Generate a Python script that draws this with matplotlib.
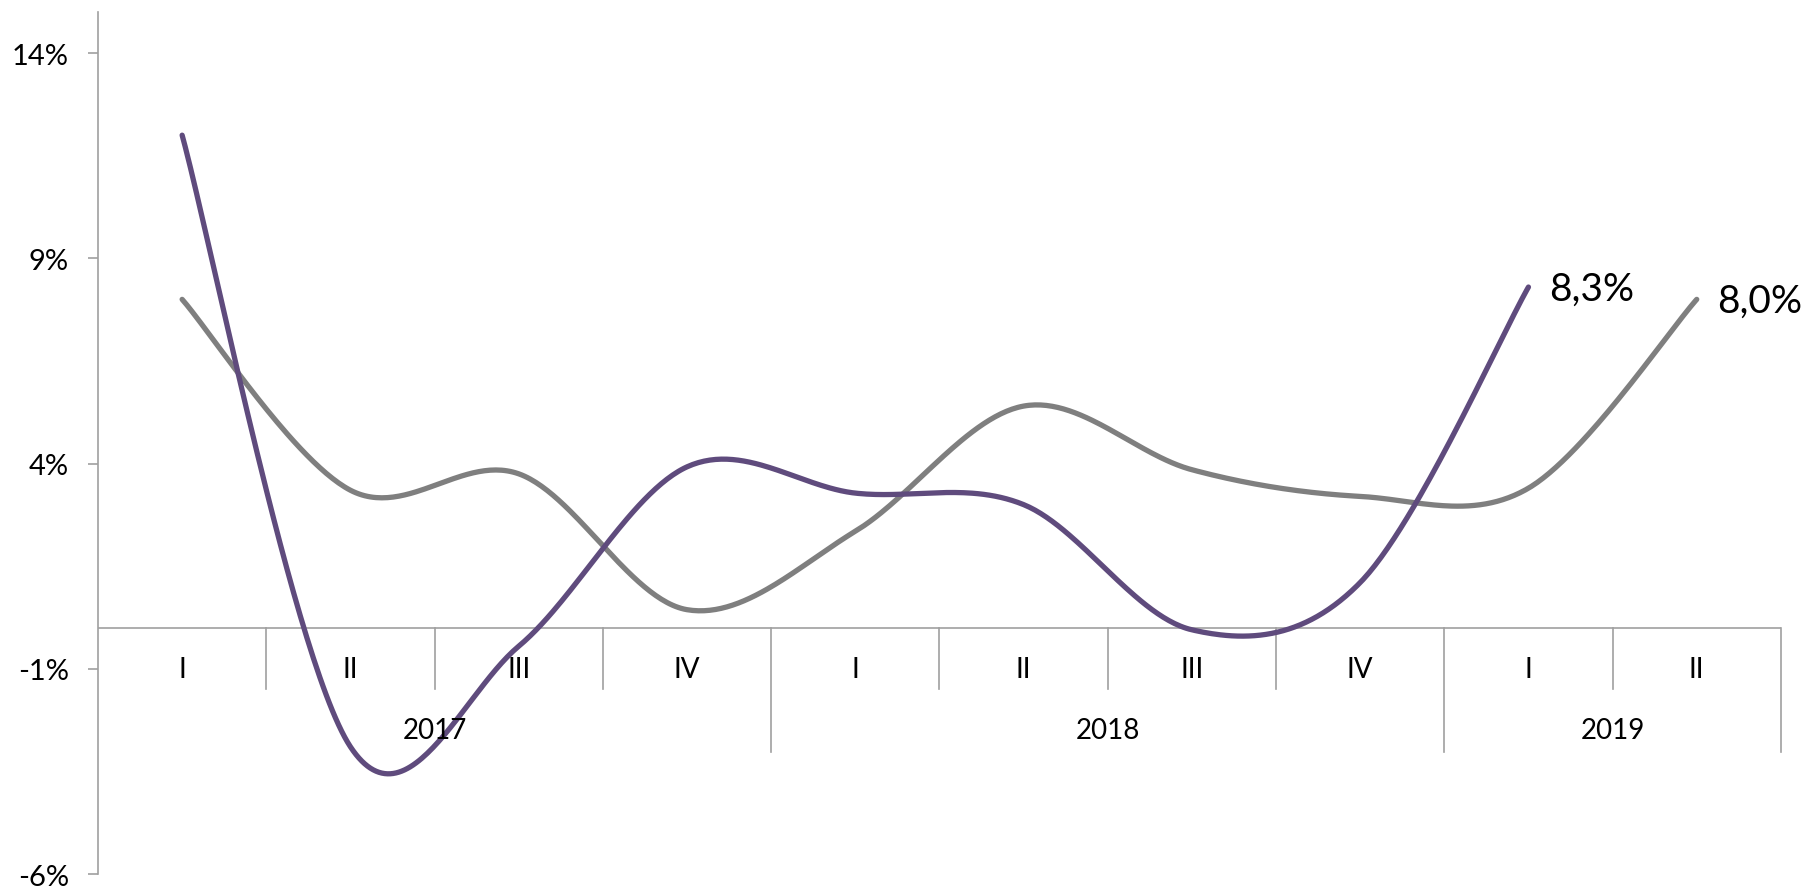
import numpy as np
import matplotlib.pyplot as plt

# ── data ─────────────────────────────────────────────────────────────────────
QUARTERS = ["I", "II", "III", "IV", "I", "II", "III", "IV", "I", "II"]
YEARS = ["2017", "2018", "2019"]
YEAR_SIZES = [4, 4, 2]
PURPLE = [12.0, -2.9, -0.45, 3.92, 3.28, 3.0, -0.05, 1.1, 8.3]
GRAY = [8.0, 3.35, 3.75, 0.44, 2.35, 5.4, 3.85, 3.2, 3.4, 8.0]
YTICKS = [-6, -1, 4, 9, 14]

C_PURPLE = "#5f4b7d"
C_GRAY = "#7f7f7f"
C_AXIS = "#a0a0a0"
FONT = ["Lato", "DejaVu Sans"]


def smooth(xs, ys, n=60):
    """Excel-like smoothed line: Catmull-Rom as cubic Bezier (1/6 tangents)"""
    p = np.column_stack([xs, ys]).astype(float)
    ext = np.vstack([p[0], p, p[-1]])
    out = []
    t = np.linspace(0, 1, n)[:, None]
    for i in range(len(p) - 1):
        p0, p3 = ext[i + 1], ext[i + 2]
        c1 = p0 + (ext[i + 2] - ext[i]) / 6
        c2 = p3 - (ext[i + 3] - ext[i + 1]) / 6
        seg = ((1 - t) ** 3) * p0 + 3 * ((1 - t) ** 2) * t * c1 \
            + 3 * (1 - t) * t ** 2 * c2 + t ** 3 * p3
        out.append(seg if i == 0 else seg[1:])
    s = np.vstack(out)
    return s[:, 0], s[:, 1]


def pct(v):
    return f"{v:.1f}%".replace(".", ",")


def main():
    plt.rcParams["font.family"] = FONT
    fig = plt.figure(figsize=(18.08, 8.87), dpi=100, facecolor="white")
    ax = fig.add_axes([0.0542, 0.0135, 0.9308, 0.9718])
    ax.set_xlim(0, len(QUARTERS))
    ax.set_ylim(-6, 15)

    for vals, col in [(GRAY, C_GRAY), (PURPLE, C_PURPLE)]:
        xs = np.arange(len(vals)) + 0.5
        sx, sy = smooth(xs, vals)
        ax.plot(sx, sy, color=col, lw=3.8, solid_capstyle="round", zorder=3)
        ax.annotate(pct(vals[-1]), (xs[-1], vals[-1]), xytext=(15, -1),
                    textcoords="offset points", ha="left", va="center",
                    fontsize=28, color="black")

    # value axis
    for s in ["top", "right", "bottom"]:
        ax.spines[s].set_visible(False)
    ax.spines["left"].set_color(C_AXIS)
    ax.spines["left"].set_linewidth(1.2)
    ax.set_yticks(YTICKS)
    ax.set_yticklabels([f"{v}%" for v in YTICKS])
    ax.tick_params(axis="y", length=7, width=1.2, color=C_AXIS, pad=14,
                   labelsize=21)
    ax.set_xticks([])

    # category axis at zero, with two-level labels
    ax.plot([0, len(QUARTERS)], [0, 0], color=C_AXIS, lw=1.2, zorder=2)
    year_edges = np.cumsum(YEAR_SIZES)
    for k in range(1, len(QUARTERS) + 1):
        depth = -3.02 if k in year_edges else -1.5
        ax.plot([k, k], [0, depth], color=C_AXIS, lw=1.2, clip_on=False)
    for i, q in enumerate(QUARTERS):
        ax.text(i + 0.5, -1.0, q, ha="center", va="center", fontsize=20)
    start = 0
    for y, n in zip(YEARS, YEAR_SIZES):
        ax.text(start + n / 2, -2.48, y, ha="center", va="center", fontsize=20)
        start += n

    fig.savefig("out.png", dpi=100, facecolor="white")
    plt.close(fig)


if __name__ == "__main__":
    main()
